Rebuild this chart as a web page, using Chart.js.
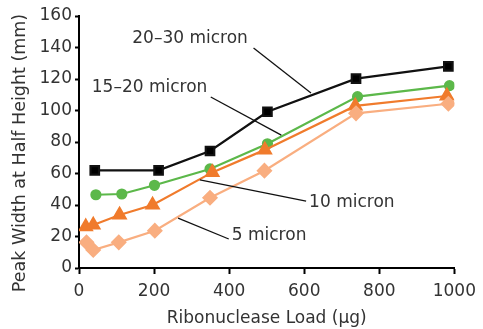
<!DOCTYPE html>
<html>
<head>
<meta charset="utf-8">
<script src="https://cdn.jsdelivr.net/npm/chart.js@4.4.1/dist/chart.umd.min.js"></script>
<style>
  html, body { margin: 0; padding: 0; background: #fff; }
  #wrap { width: 483px; height: 329px; }
</style>
</head>
<body>
<div id="wrap"><canvas id="grafico" width="483" height="329"></canvas></div>
<script>
// valori (x = carico in µg, y = larghezza picco in mm)
const serie20_30 = [[42, 62], [212, 62], [349, 74.3], [502, 99.2], [738, 120.2], [984, 128]];
const serie15_20 = [[45, 46.5], [114, 47], [201, 52.5], [349, 62.9], [502, 78.9], [742, 108.8], [987, 115.8]];
const serie10 = [[18, 26.2], [38, 27.3], [108, 33.7], [196, 40], [355, 60.7], [495, 75], [736, 102.9], [980, 109.2]];
const serie5 = [[20, 16.3], [38, 11.4], [106, 16.3], [202, 23.7], [349, 44.6], [494, 61.8], [738, 98.2], [984, 104.3]];

// etichette con linea di richiamo: testo [x, y], linea da [x, y] a [x, y] (unità dei dati)
const etichette = ['20–30 micron', '15–20 micron', '10 micron', '5 micron'];
const posTesto = [[142, 145.4], [34, 114.3], [613, 41.3], [407, 20.3]];
const richiamoDa = [[465, 139.7], [351, 108.6], [605, 42.5], [399, 18.4]];
const richiamoA = [[618, 111.1], [539, 84.4], [322, 55.9], [264, 31.7]];

const xTicks = [0, 200, 400, 600, 800, 1000];
const yTicks = [0, 20, 40, 60, 80, 100, 120, 140, 160];
const titoloY = 'Peak Width at Half Height (mm)';

const font = '"DejaVu Sans"';
const testo = '#333';

const toPts = arr => arr.map(p => ({ x: p[0], y: p[1] }));

const pluginEtichette = {
  id: 'etichette',
  afterDatasetsDraw(chart) {
    const { ctx, scales: { x, y } } = chart;
    ctx.save();
    ctx.strokeStyle = '#111';
    ctx.lineWidth = 1.3;
    etichette.forEach((t, i) => {
      ctx.beginPath();
      ctx.moveTo(x.getPixelForValue(richiamoDa[i][0]), y.getPixelForValue(richiamoDa[i][1]));
      ctx.lineTo(x.getPixelForValue(richiamoA[i][0]), y.getPixelForValue(richiamoA[i][1]));
      ctx.stroke();
      ctx.fillStyle = testo;
      ctx.font = `17px ${font}`;
      ctx.textBaseline = 'middle';
      ctx.textAlign = 'left';
      ctx.fillText(t, x.getPixelForValue(posTesto[i][0]), y.getPixelForValue(posTesto[i][1]));
    });
    // titolo asse y, un po' sotto il centro dell'area come nell'originale
    ctx.translate(20, (chart.chartArea.top + chart.chartArea.bottom) / 2 + 11);
    ctx.rotate(-Math.PI / 2);
    ctx.font = `17.5px ${font}`;
    ctx.textAlign = 'center';
    ctx.textBaseline = 'middle';
    ctx.fillText(titoloY, 0, 0);
    ctx.restore();
  }
};

new Chart(document.getElementById('grafico'), {
  type: 'line',
  data: {
    datasets: [
      {
        label: '5 micron', data: toPts(serie5),
        borderColor: '#f9ae80', backgroundColor: '#f9ae80',
        pointStyle: 'rectRot', pointRadius: 6.5, borderWidth: 2.2
      },
      {
        label: '10 micron', data: toPts(serie10),
        borderColor: '#f07b2c', backgroundColor: '#f07b2c',
        pointStyle: 'triangle', pointRadius: 7, borderWidth: 2.2
      },
      {
        label: '15–20 micron', data: toPts(serie15_20),
        borderColor: '#5cb84a', backgroundColor: '#5cb84a',
        pointStyle: 'circle', pointRadius: 4.5, borderWidth: 2.2
      },
      {
        label: '20–30 micron', data: toPts(serie20_30),
        borderColor: '#111', backgroundColor: '#000',
        pointStyle: 'rect', pointRadius: 6, borderWidth: 2.2
      }
    ]
  },
  options: {
    responsive: false,
    animation: false,
    layout: { padding: { left: 0, top: 16, right: 20, bottom: 0 } },
    plugins: { legend: { display: false }, tooltip: { enabled: false } },
    elements: { line: { tension: 0 }, point: { borderWidth: 0 } },
    scales: {
      x: {
        type: 'linear', min: 0, max: 1000,
        afterFit: s => { s.height = 61; },
        afterBuildTicks: s => { s.ticks = [0, 100, 200, 300, 400, 500, 600, 700, 800, 900, 1000].map(v => ({ value: v })); },
        ticks: {
          color: testo, font: { family: font, size: 17 }, padding: 7, maxRotation: 0,
          callback: v => xTicks.includes(v) ? String(v) : ''
        },
        grid: { drawOnChartArea: false, tickLength: 6, color: '#000', tickWidth: 2 },
        border: { color: '#000', width: 2 },
        title: { display: true, text: 'Ribonuclease Load (µg)', color: testo, font: { family: font, size: 17 }, padding: { top: 4, bottom: 0 } }
      },
      y: {
        min: 0, max: 160,
        afterFit: s => { s.width = 79; },
        afterBuildTicks: s => { s.ticks = yTicks.map(v => ({ value: v })); },
        ticks: { color: testo, font: { family: font, size: 17 }, padding: 3 },
        grid: { drawOnChartArea: false, tickLength: 4, color: '#000', tickWidth: 2 },
        border: { color: '#000', width: 2 },
        title: { display: false }
      }
    }
  },
  plugins: [pluginEtichette]
});
</script>
</body>
</html>
